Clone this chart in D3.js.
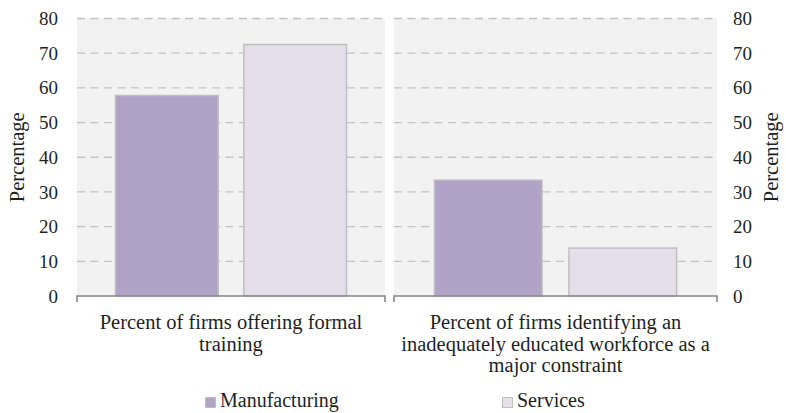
<!DOCTYPE html>
<html>
<head>
<meta charset="utf-8">
<script src="https://cdn.jsdelivr.net/npm/d3@7"></script>
<style>
  html, body { margin: 0; padding: 0; background: #ffffff; }
  svg { display: block; }
  svg text { font-family: "Liberation Serif", "Times New Roman", "DejaVu Serif", serif !important; fill: #1f1f1f; }
</style>
</head>
<body>
<svg id="chart" width="786" height="413"></svg>
<script>
// Survey indicators, one panel each
const panelTitles = [
  ["Percent of firms offering formal", "training"],
  ["Percent of firms identifying an", "inadequately educated workforce as a", "major constraint"]
];
const seriesNames = ["Manufacturing", "Services"];
const manufacturingValues = [57.8, 33.4];
const servicesValues = [72.5, 13.8];
const yTicks = [0, 10, 20, 30, 40, 50, 60, 70, 80];
const yLabel = "Percentage";

const colors = { Manufacturing: "#b1a2c8", Services: "#e4dfeb" };
const labelSize = 20.5;
const tickSize = 19;
const legendSize = 20;

const svg = d3.select("#chart");

const plotTop = 18.5, plotBottom = 296;
const y = d3.scaleLinear().domain([0, 80]).range([plotBottom, plotTop]);

const panels = [
  { x0: 77, x1: 385, side: "left" },
  { x0: 394, x1: 717, side: "right" }
];

panels.forEach((p, i) => {
  const g = svg.append("g");
  const values = [manufacturingValues[i], servicesValues[i]];
  const x = d3.scaleBand().domain(seriesNames).range([p.x0, p.x1])
    .paddingInner(0.2).paddingOuter(0.3);

  // panel background
  g.append("rect").attr("x", p.x0).attr("y", plotTop)
    .attr("width", p.x1 - p.x0).attr("height", plotBottom - plotTop)
    .attr("fill", "#f2f2f2");

  // dashed gridlines
  g.selectAll("line.grid").data(yTicks.filter(t => t > 0)).enter()
    .append("line").attr("class", "grid")
    .attr("x1", p.x0).attr("x2", p.x1)
    .attr("y1", d => y(d)).attr("y2", d => y(d))
    .attr("stroke", "#c3c3c3").attr("stroke-width", 1.3)
    .attr("stroke-dasharray", "8,5.5");

  // bars
  g.selectAll("rect.bar").data(seriesNames.map((s, k) => ({ s, v: values[k] }))).enter()
    .append("rect").attr("class", "bar")
    .attr("x", d => x(d.s)).attr("width", x.bandwidth())
    .attr("y", d => y(d.v)).attr("height", d => plotBottom - y(d.v))
    .attr("fill", d => colors[d.s])
    .attr("stroke", "#bfbfbf").attr("stroke-width", 1.5);

  // category axis line with end ticks
  g.append("path")
    .attr("d", `M${p.x0},${plotBottom + 6}V${plotBottom}H${p.x1}V${plotBottom + 6}`)
    .attr("fill", "none").attr("stroke", "#868686").attr("stroke-width", 1.6);

  // value axis
  const axis = p.side === "left"
    ? d3.axisLeft(y).tickValues(yTicks).tickSize(0).tickPadding(0)
    : d3.axisRight(y).tickValues(yTicks).tickSize(0).tickPadding(0);
  const ag = g.append("g")
    .attr("transform", `translate(${p.side === "left" ? 58 : 733},0)`)
    .call(axis);
  ag.attr("font-family", null).attr("font-size", null);
  ag.select(".domain").remove();
  ag.selectAll("text").attr("font-size", tickSize).attr("fill", "#1f1f1f");

  // axis title
  g.append("text")
    .attr("transform", `translate(${p.side === "left" ? 24 : 778},${(plotTop + plotBottom) / 2}) rotate(-90)`)
    .attr("text-anchor", "middle").attr("font-size", labelSize)
    .text(yLabel);

  // category label
  const cx = (p.x0 + p.x1) / 2;
  const t = g.append("text").attr("text-anchor", "middle").attr("font-size", labelSize);
  panelTitles[i].forEach((line, k) => {
    t.append("tspan").attr("x", cx).attr("y", 329 + k * 21.5).text(line);
  });
});

// legend
const legendX = [205, 502];
seriesNames.forEach((s, k) => {
  const lg = svg.append("g").attr("transform", `translate(${legendX[k]},397)`);
  lg.append("rect").attr("x", 0.5).attr("y", 0.5).attr("width", 10).attr("height", 10)
    .attr("fill", colors[s]).attr("stroke", "#bfbfbf").attr("stroke-width", 1);
  lg.append("text").attr("x", 15).attr("y", 10).attr("font-size", legendSize).text(s);
});
</script>
</body>
</html>
